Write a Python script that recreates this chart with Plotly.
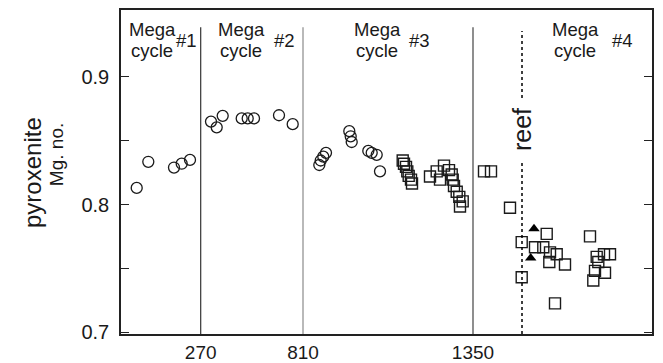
import plotly.graph_objects as go

# x positions are in stratigraphic plot units (axis is schematic, non-linear labels)
tick_pos = [79.7, 182, 352]
tick_labels = ["270", "810", "1350"]
boundary_x = [79.7, 182, 352]
reef_x = 401

mc1_x = [15.7, 27.3, 53, 60.7, 69]
mc1_y = [0.813, 0.8335, 0.829, 0.832, 0.835]
mc2_x = [90, 95.7, 101.7, 120.7, 126.7, 133, 158, 171.7]
mc2_y = [0.865, 0.8605, 0.8695, 0.8675, 0.8675, 0.8675, 0.870, 0.863]
mc3c_x = [198.3, 199.7, 202.3, 205, 228.3, 229.7, 230.7, 247.3, 250.7, 255.7, 259]
mc3c_y = [0.831, 0.8345, 0.8375, 0.8405, 0.8575, 0.8535, 0.849, 0.842, 0.8405, 0.839, 0.826]
mc3s_x = [281.7, 283, 285, 286.3, 287.7, 290, 291, 309, 315.7, 319, 323, 328, 330.7,
          331.7, 333, 335.7, 338.3, 341.7, 339, 363, 370]
mc3s_y = [0.8345, 0.832, 0.8295, 0.826, 0.8225, 0.8195, 0.8165, 0.822, 0.826, 0.8195,
          0.8305, 0.827, 0.8235, 0.8195, 0.8145, 0.81, 0.806, 0.8025, 0.7985, 0.826, 0.826]
mc4s_x = [389, 400.7, 400.7, 425.7, 414, 422.3, 429, 435.7, 428.3, 444, 434, 469, 475.7,
          483, 489, 477.3, 484, 474, 472.3]
mc4s_y = [0.7975, 0.7705, 0.743, 0.777, 0.7665, 0.7665, 0.7625, 0.761, 0.755, 0.753,
          0.7225, 0.775, 0.759, 0.761, 0.761, 0.755, 0.7465, 0.748, 0.7405]
tri_x = [413, 409.7]
tri_y = [0.781, 0.758]

cycle_x = [31, 120, 256, 454]
cycle_num_x = [65.5, 163, 298, 501]
cycle_nums = ["#1", "#2", "#3", "#4"]

YMIN, YMAX = 0.6985, 0.9525
XMIN, XMAX = 0, 531
FONT = "Liberation Sans, Arial, Helvetica, sans-serif"
INK = "#1a1a1a"

fig = go.Figure()

circ = dict(symbol="circle-open", size=11, color=INK, line=dict(width=1.3, color=INK))
sq = dict(symbol="square-open", size=11, color=INK, line=dict(width=1.4, color=INK))

for xs, ys in [(mc1_x, mc1_y), (mc2_x, mc2_y), (mc3c_x, mc3c_y)]:
    fig.add_trace(go.Scatter(x=xs, y=ys, mode="markers", marker=circ, showlegend=False))
for xs, ys in [(mc3s_x, mc3s_y), (mc4s_x, mc4s_y)]:
    fig.add_trace(go.Scatter(x=xs, y=ys, mode="markers", marker=sq, showlegend=False))
fig.add_trace(go.Scatter(x=tri_x, y=tri_y, mode="markers",
                         marker=dict(symbol="triangle-up", size=10, color="black"),
                         showlegend=False))

line_cols = ["#333333", "#8a8a8a", "#444444"]
for bx, c in zip(boundary_x, line_cols):
    fig.add_shape(type="line", x0=bx, x1=bx, y0=YMIN, y1=0.939,
                  line=dict(color=c, width=1.2), layer="below")

fig.add_shape(type="line", x0=reef_x, x1=reef_x, y0=YMIN, y1=0.8326,
              line=dict(color="black", width=1.5, dash="dot"))
fig.add_shape(type="line", x0=reef_x, x1=reef_x, y0=0.8835, y1=0.936,
              line=dict(color="black", width=1.5, dash="dot"))

annots = []
annots.append(dict(x=reef_x, y=0.8584, text="reef", textangle=-90, showarrow=False,
                   xref="x", yref="y", xanchor="center", yanchor="middle",
                   font=dict(size=25, family=FONT, color=INK)))
for cx, nx, num in zip(cycle_x, cycle_num_x, cycle_nums):
    annots.append(dict(x=cx, y=0.9372, text="Mega", showarrow=False, xref="x", yref="y",
                       xanchor="center", yanchor="middle", borderpad=0,
                       font=dict(size=18.5, family=FONT, color=INK)))
    annots.append(dict(x=cx, y=0.9207, text="cycle", showarrow=False, xref="x", yref="y",
                       xanchor="center", yanchor="middle", borderpad=0,
                       font=dict(size=18.5, family=FONT, color=INK)))
    annots.append(dict(x=nx, y=0.9285, text=num, showarrow=False, xref="x", yref="y",
                       xanchor="center", yanchor="middle", borderpad=0,
                       font=dict(size=18.5, family=FONT, color=INK)))
annots.append(dict(x=-0.1657, y=0.497, text="pyroxenite", textangle=-90, showarrow=False,
                   xref="paper", yref="paper", xanchor="center", yanchor="middle",
                   font=dict(size=24, family=FONT, color=INK)))
annots.append(dict(x=-0.1225, y=0.555, text="Mg. no.", textangle=-90, showarrow=False,
                   xref="paper", yref="paper", xanchor="center", yanchor="middle",
                   font=dict(size=19, family=FONT, color=INK)))

fig.update_layout(
    width=663, height=363,
    margin=dict(l=121, r=11, t=10, b=29),
    paper_bgcolor="white", plot_bgcolor="white",
    annotations=annots,
    font=dict(family=FONT, color=INK),
)
fig.update_xaxes(range=[XMIN, XMAX], showgrid=False, zeroline=False, automargin=False,
                 showline=True, linecolor="#222", linewidth=1.5, mirror=True,
                 tickvals=tick_pos, ticktext=tick_labels, ticks="",
                 tickfont=dict(size=19, family=FONT, color=INK))
fig.update_yaxes(range=[YMIN, YMAX], showgrid=False, zeroline=False, automargin=False,
                 showline=True, linecolor="#222", linewidth=1.5, mirror="ticks",
                 tickvals=[0.7, 0.75, 0.8, 0.85, 0.9], ticktext=["0.7", "", "0.8", "", "0.9"],
                 ticks="inside", ticklen=8, tickwidth=1.2, tickcolor="#222",
                 ticklabelstandoff=6,
                 tickfont=dict(size=20, family=FONT, color=INK))

fig.write_html("out.html")
